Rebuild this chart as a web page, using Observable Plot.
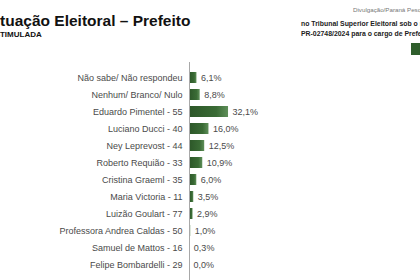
<!DOCTYPE html>
<html>
<head>
<meta charset="utf-8">
<script src="https://cdn.jsdelivr.net/npm/d3@7"></script>
<script src="https://cdn.jsdelivr.net/npm/@observablehq/plot@0.6"></script>
<style>
  html, body { margin: 0; padding: 0; background: #fff; }
  body { width: 420px; height: 280px; overflow: hidden; position: relative; font-family: "Liberation Sans", Arial, sans-serif; }
  .t { position: absolute; white-space: nowrap; line-height: 1; }
  #chart { position: absolute; left: 0; top: 60px; }
</style>
</head>
<body>
<div class="t" style="left:-14.6px; top:12.5px; font-size:15.5px; font-weight:bold; color:#111;">Situação Eleitoral – Prefeito</div>
<div class="t" style="left:-10.7px; top:31px; font-size:8px; font-weight:bold; color:#111;">ESTIMULADA</div>
<div class="t" style="left:353px; top:7px; font-size:6.2px; color:#777;">Divulgação/Paraná Pesquisas</div>
<div class="t" style="left:301px; top:21px; font-size:6.9px; font-weight:bold; color:#222;">no Tribunal Superior Eleitoral sob o número</div>
<div class="t" style="left:301px; top:31px; font-size:6.9px; font-weight:bold; color:#222;">PR-02748/2024 para o cargo de Prefeito.</div>
<div style="position:absolute; left:411px; top:43px; width:9px; height:12px; background:#2f5e2c;"></div>
<div id="chart"></div>
<script>
const categories = [
  "Não sabe/ Não respondeu",
  "Nenhum/ Branco/ Nulo",
  "Eduardo Pimentel - 55",
  "Luciano Ducci - 40",
  "Ney Leprevost - 44",
  "Roberto Requião - 33",
  "Cristina Graeml - 35",
  "Maria Victoria - 11",
  "Luizão Goulart - 77",
  "Professora Andrea Caldas - 50",
  "Samuel de Mattos - 16",
  "Felipe Bombardelli - 29"
];
const values = [6.1, 8.8, 32.1, 16.0, 12.5, 10.9, 6.0, 3.5, 2.9, 1.0, 0.3, 0.0];

const data = categories.map((c, i) => ({category: c, value: values[i]}));
const fmt = v => d3.format(".1f")(v).replace(".", ",") + "%";

const plot = Plot.plot({
  width: 420,
  height: 220,
  marginLeft: 189,
  marginRight: 0,
  marginTop: 2,
  marginBottom: 0,
  style: {fontFamily: "'Liberation Sans', Arial, sans-serif", fontSize: "9px", color: "#4a4a4a", background: "transparent"},
  x: {domain: [0, 190], axis: null},
  y: {domain: categories, padding: 0.35, label: null, tickSize: 0, tickPadding: 7},
  marks: [
    Plot.barX(data, {y: "category", x: "value", fill: "url(#barGrad)"}),
    Plot.ruleX([0], {stroke: "#a8a8a8", strokeWidth: 1}),
    Plot.text(data, {y: "category", x: "value", text: d => fmt(d.value), textAnchor: "start", dx: 4, fill: "#4a4a4a", fontSize: 9})
  ]
});

const svg = d3.select(plot);
const defs = svg.insert("defs", ":first-child");
const g = defs.append("linearGradient").attr("id", "barGrad").attr("x1", "0").attr("x2", "1").attr("y1", "0").attr("y2", "0");
g.append("stop").attr("offset", "0%").attr("stop-color", "#2c5628");
g.append("stop").attr("offset", "70%").attr("stop-color", "#3a6b35");
g.append("stop").attr("offset", "100%").attr("stop-color", "#5f8f59");

document.getElementById("chart").appendChild(plot);
</script>
</body>
</html>
